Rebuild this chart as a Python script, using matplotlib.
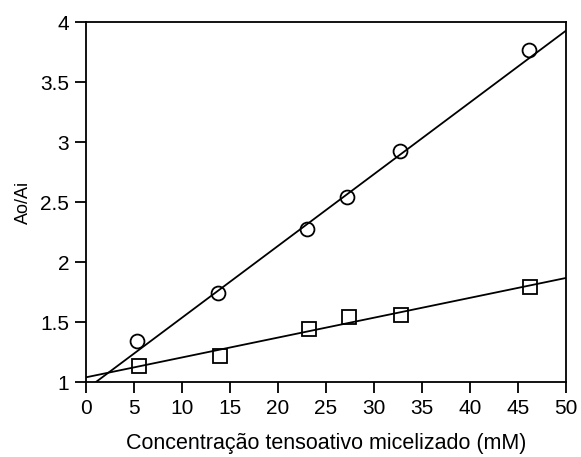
import matplotlib

matplotlib.use("Agg")
import matplotlib.pyplot as plt

# data
conc_circ = [5.3, 13.8, 23.0, 27.2, 32.7, 46.1]
ratio_circ = [1.34, 1.74, 2.275, 2.54, 2.925, 3.765]
conc_sq = [5.5, 14.0, 23.2, 27.4, 32.8, 46.3]
ratio_sq = [1.135, 1.22, 1.44, 1.545, 1.558, 1.794]

# fitted lines (endpoints)
fit_x = [0, 50]
fit_circ = [0.938, 3.928]
fit_sq = [1.039, 1.867]

plt.rcParams["font.family"] = ["Liberation Sans", "DejaVu Sans"]

fig = plt.figure(figsize=(5.81, 4.57), dpi=100)
ax = fig.add_axes([86 / 581, 1 - 382 / 457, 480 / 581, 360 / 457])

ax.plot(fit_x, fit_circ, color="black", lw=1.3)
ax.plot(fit_x, fit_sq, color="black", lw=1.3)
ax.plot(conc_circ, ratio_circ, "o", ms=10, mfc="none", mec="black", mew=1.3,
        clip_on=False)
ax.plot(conc_sq, ratio_sq, "s", ms=10, mfc="none", mec="black", mew=1.3,
        clip_on=False)

ax.set_xlim(0, 50)
ax.set_ylim(1, 4)
ax.set_xticks(range(0, 51, 5))
ax.set_yticks([1, 1.5, 2, 2.5, 3, 3.5, 4])
ax.set_yticklabels(["1", "1.5", "2", "2.5", "3", "3.5", "4"])
ax.tick_params(direction="out", length=8, width=1.3, labelsize=15, pad=4)
for s in ax.spines.values():
    s.set_linewidth(1.3)

ax.set_xlabel("Concentração tensoativo micelizado (mM)", fontsize=15.5, labelpad=11)
ax.set_ylabel("Ao/Ai", fontsize=13, labelpad=6)

fig.savefig("out.png", dpi=100)
